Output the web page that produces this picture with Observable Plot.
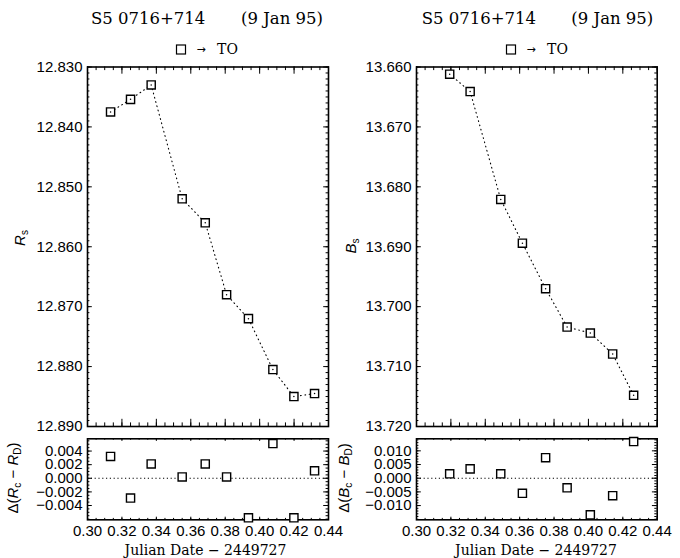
<!DOCTYPE html>
<html><head><meta charset="utf-8">
<script src="https://cdn.jsdelivr.net/npm/d3@7"></script>
<script src="https://cdn.jsdelivr.net/npm/@observablehq/plot@0.6"></script>
<style>
body{margin:0;background:#fff}
#chart{position:relative;width:680px;height:558px;background:#fff;overflow:hidden}
#chart > svg{position:absolute;margin:0}
</style>
</head><body><div id="chart"></div>
<script>
// ---- data ----
const rJD = [0.3134, 0.3250, 0.3370, 0.3550, 0.3684, 0.3808, 0.3935, 0.4077, 0.4199, 0.4319];
const rMag = [12.8375, 12.8354, 12.8330, 12.8520, 12.8560, 12.8680, 12.8720, 12.8805, 12.8850, 12.8845];
const rResid = [0.0032, -0.0029, 0.0021, 0.0002, 0.0021, 0.0002, -0.0058, 0.0051, -0.0058, 0.0011];

const bJD = [0.3193, 0.3312, 0.3490, 0.3616, 0.3751, 0.3876, 0.4011, 0.4141, 0.4263];
const bMag = [13.6612, 13.6641, 13.6821, 13.6894, 13.6970, 13.7034, 13.7044, 13.7079, 13.7148];
const bResid = [0.0016, 0.0034, 0.0016, -0.0055, 0.0075, -0.0035, -0.0134, -0.0064, 0.0134];

// ---- tick values ----
const xDomain = [0.30, 0.44];
const xMajor = [0.30, 0.32, 0.34, 0.36, 0.38, 0.40, 0.42, 0.44];
const xMinorStep = 0.005;
const rMagDomain = [12.830, 12.890];
const rMagMajor = [12.830, 12.840, 12.850, 12.860, 12.870, 12.880, 12.890];
const bMagDomain = [13.660, 13.720];
const bMagMajor = [13.660, 13.670, 13.680, 13.690, 13.700, 13.710, 13.720];
const magMinorStep = 0.001;
const rResDomain = [-0.0061, 0.0058];
const rResMajor = [-0.004, -0.002, 0.000, 0.002, 0.004];
const rResMinorStep = 0.0005;
const bResDomain = [-0.0152, 0.0144];
const bResMajor = [-0.010, -0.005, 0.000, 0.005, 0.010];
const bResMinorStep = 0.001;

function steps(lo, hi, step) {
  const n = Math.round((hi - lo) / step);
  const out = [];
  for (let i = 0; i <= n; i++) out.push(+(lo + i * step).toFixed(6));
  return out;
}
function within(arr, dom) {
  const lo = Math.min(...dom), hi = Math.max(...dom);
  return arr.filter(v => v >= lo - 1e-9 && v <= hi + 1e-9);
}
const xMinor = steps(xDomain[0], xDomain[1], xMinorStep);

const chart = document.getElementById("chart");

function panel(o) {
  const data = o.jd.map((d, i) => ({jd: d, v: o.val[i]}));
  const innerW = o.width - o.mL - o.mR;
  const innerH = o.height - o.mT - o.mB;
  const yMinor = within(steps(o.minorLo, o.minorHi, o.yMinorStep), o.yDom);
  const yMajorT = within(o.yMajorTicks, o.yDom);
  const marks = [];
  if (o.zero) marks.push(Plot.ruleY([0], {stroke: "black", strokeWidth: 1.1, strokeDasharray: "1.2,2.6"}));
  // x ticks, top & bottom, pointing inward
  marks.push(Plot.ruleX(xMinor, {x: d => d, insetBottom: innerH - o.xMin, stroke: "black", strokeWidth: 1}));
  marks.push(Plot.ruleX(xMinor, {x: d => d, insetTop: innerH - o.xMin, stroke: "black", strokeWidth: 1}));
  marks.push(Plot.ruleX(xMajor, {x: d => d, insetBottom: innerH - o.xMaj, stroke: "black", strokeWidth: 1}));
  marks.push(Plot.ruleX(xMajor, {x: d => d, insetTop: innerH - o.xMaj, stroke: "black", strokeWidth: 1}));
  // y ticks, left & right
  marks.push(Plot.ruleY(yMinor, {y: d => d, insetRight: innerW - o.yMin, stroke: "black", strokeWidth: 1}));
  marks.push(Plot.ruleY(yMinor, {y: d => d, insetLeft: innerW - o.yMin, stroke: "black", strokeWidth: 1}));
  marks.push(Plot.ruleY(yMajorT, {y: d => d, insetRight: innerW - o.yMaj, stroke: "black", strokeWidth: 1}));
  marks.push(Plot.ruleY(yMajorT, {y: d => d, insetLeft: innerW - o.yMaj, stroke: "black", strokeWidth: 1}));
  marks.push(Plot.frame({stroke: "black", strokeWidth: 1.6}));
  if (o.connect) marks.push(Plot.line(data, {x: "jd", y: "v", stroke: "black", strokeWidth: 1.1, strokeDasharray: "0.8,3.6"}));
  marks.push(Plot.dot(data, {x: "jd", y: "v", symbol: "square", r: 4.6, stroke: "black", strokeWidth: 1.4, fill: "white"}));
  if (o.connect) marks.push(Plot.dot(data, {x: "jd", y: "v", r: 0.75, fill: "black", stroke: "none"}));

  const svg = Plot.plot({
    width: o.width, height: o.height,
    marginLeft: o.mL, marginRight: o.mR, marginTop: o.mT, marginBottom: o.mB,
    style: {fontFamily: "'Liberation Sans', Arial, sans-serif", fontSize: o.fontSize || "15px", color: "black", background: "transparent", overflow: "visible"},
    x: {domain: xDomain, ticks: xMajor, tickSize: 0, tickPadding: o.xLabels ? 6 : 0, tickFormat: d3.format(".2f"), label: null, axis: o.xLabels ? "bottom" : null},
    y: {domain: o.yDom, reverse: !!o.reverse, ticks: o.yLabels, tickSize: 0, tickPadding: 5, tickFormat: d3.format(".3f"), label: null, axis: "left"},
    marks
  });
  svg.style.left = o.left + "px";
  svg.style.top = o.top + "px";
  chart.appendChild(svg);
}

const mainTop = 0, mainH = 432, mainMT = 66.5, mainMB = 6;
const resTop = 432, resH = 126, resMT = 6.3, resMB = 38.7;

// Left (R) panels
panel({jd: rJD, val: rMag, yDom: rMagDomain, reverse: true, yLabels: rMagMajor, yMajorTicks: rMagMajor,
  minorLo: rMagDomain[0], minorHi: rMagDomain[1], yMinorStep: magMinorStep,
  left: 0, top: mainTop, width: 340, height: mainH, mL: 87, mR: 12, mT: mainMT, mB: mainMB,
  xMaj: 7.2, xMin: 3.6, yMaj: 4.8, yMin: 2.4, connect: true, xLabels: false});
panel({jd: rJD, val: rResid, yDom: rResDomain, yLabels: rResMajor, yMajorTicks: rResMajor,
  minorLo: -0.006, minorHi: 0.006, yMinorStep: rResMinorStep,
  left: 0, top: resTop, width: 340, height: resH, mL: 87, mR: 12, mT: resMT, mB: resMB,
  xMaj: 2.6, xMin: 1.4, yMaj: 4.8, yMin: 2.4, zero: true, xLabels: true});

// Right (B) panels
panel({jd: bJD, val: bMag, yDom: bMagDomain, reverse: true, yLabels: bMagMajor, yMajorTicks: bMagMajor,
  minorLo: bMagDomain[0], minorHi: bMagDomain[1], yMinorStep: magMinorStep,
  left: 340, top: mainTop, width: 340, height: mainH, mL: 76, mR: 23.3, mT: mainMT, mB: mainMB,
  xMaj: 7.2, xMin: 3.6, yMaj: 4.8, yMin: 2.4, connect: true, xLabels: false});
panel({jd: bJD, val: bResid, yDom: bResDomain, yLabels: bResMajor, yMajorTicks: bResMajor,
  minorLo: -0.015, minorHi: 0.015, yMinorStep: bResMinorStep,
  left: 340, top: resTop, width: 340, height: resH, mL: 76, mR: 23.3, mT: resMT, mB: resMB,
  xMaj: 2.6, xMin: 1.4, yMaj: 4.8, yMin: 2.4, zero: true, xLabels: true});

// ---- text overlay ----
const ov = d3.select("#chart").append("svg")
  .attr("width", 680).attr("height", 558)
  .style("left", "0px").style("top", "0px").style("pointer-events", "none");

const serif = "'DejaVu Serif', serif";
const sans = "'Liberation Sans', Arial, sans-serif";
const titleA = "S5 0716+714";
const titleB = "(9 Jan 95)";
const legendLabel = "TO";
const xTitle = "Julian Date \u2212 2449727";

function title(x1, x2) {
  ov.append("text").attr("x", x1).attr("y", 24).attr("font-family", serif).attr("font-size", 16.5).text(titleA);
  ov.append("text").attr("x", x2).attr("y", 24).attr("text-anchor", "end").attr("font-family", serif).attr("font-size", 16.5).text(titleB);
}
title(91, 323);
title(421.7, 653.3);

function legend(xs, xa, xt) {
  // legend swatch: open square like the plotted symbol
  ov.append("rect").attr("x", xs - 4.5).attr("y", 45).attr("width", 9).attr("height", 9)
    .attr("fill", "none").attr("stroke", "black").attr("stroke-width", 1.2);
  ov.append("text").attr("x", xa).attr("y", 53).attr("text-anchor", "middle").attr("font-family", "'DejaVu Sans', sans-serif").attr("font-size", 11).text("\u2192");
  ov.append("text").attr("x", xt).attr("y", 54).attr("text-anchor", "middle").attr("font-family", serif).attr("font-size", 14).text(legendLabel);
}
legend(181, 201, 227.5);
legend(511, 531, 557.5);

ov.append("text").attr("x", 205.5).attr("y", 555).attr("text-anchor", "middle").attr("font-family", serif).attr("font-size", 14).text(xTitle);
ov.append("text").attr("x", 536).attr("y", 555).attr("text-anchor", "middle").attr("font-family", serif).attr("font-size", 14).text(xTitle);

function magLabel(x, y, letter, sub) {
  const t = ov.append("text").attr("transform", `translate(${x},${y}) rotate(-90)`).attr("text-anchor", "middle")
    .attr("font-family", sans).attr("font-size", 15);
  t.append("tspan").attr("font-style", "italic").text(letter);
  t.append("tspan").attr("font-size", 10).attr("dy", 3).text(sub);
}
magLabel(25, 238, "R", "s");
magLabel(356, 246, "B", "s");

function resLabel(x, y, letter) {
  const t = ov.append("text").attr("transform", `translate(${x},${y}) rotate(-90)`).attr("text-anchor", "middle")
    .attr("font-family", sans).attr("font-size", 15);
  t.append("tspan").text("\u0394(");
  t.append("tspan").attr("font-style", "italic").text(letter);
  t.append("tspan").attr("font-size", 10).attr("dy", 3).text("c");
  t.append("tspan").attr("dy", -3).text(" \u2212 ");
  t.append("tspan").attr("font-style", "italic").text(letter);
  t.append("tspan").attr("font-size", 10).attr("dy", 3).text("D");
  t.append("tspan").attr("dy", -3).text(")");
}
resLabel(18, 478, "R");
resLabel(349, 478, "B");
</script></body></html>
